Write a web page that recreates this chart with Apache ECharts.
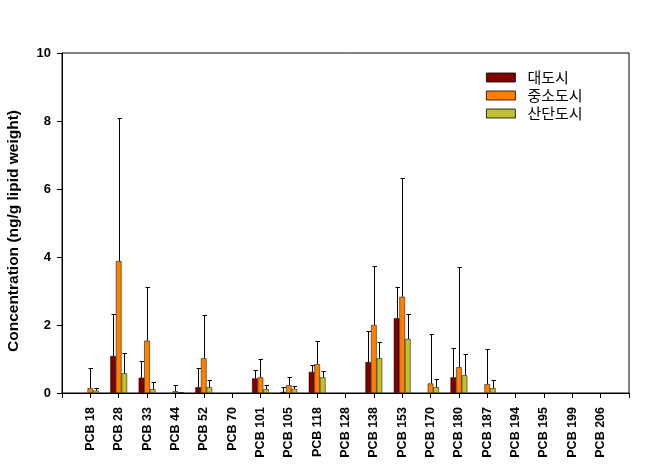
<!DOCTYPE html>
<html>
<head>
<meta charset="utf-8">
<script src="https://cdn.jsdelivr.net/npm/echarts@6/dist/echarts.min.js"></script>
<style>
html,body{margin:0;padding:0;background:#fff;}
#chart{width:658px;height:475px;}
</style>
</head>
<body>
<div id="chart"></div>
<script>
const categories = ['PCB 18','PCB 28','PCB 33','PCB 44','PCB 52','PCB 70','PCB 101','PCB 105','PCB 118','PCB 128','PCB 138','PCB 153','PCB 170','PCB 180','PCB 187','PCB 194','PCB 195','PCB 199','PCB 206'];
const seriesNames = ['대도시','중소도시','산단도시'];
const yTicks = [0, 2, 4, 6, 8, 10];

const largeCity  = [0, 1.09, 0.45, 0, 0.17, 0, 0.43, 0.03, 0.62, 0, 0.91, 2.20, 0, 0.46, 0, 0, 0, 0, 0];
const mediumCity = [0.14, 3.88, 1.54, 0.05, 1.02, 0, 0.46, 0.23, 0.85, 0, 2.00, 2.83, 0.28, 0.76, 0.26, 0, 0, 0, 0];
const industCity = [0.07, 0.58, 0.11, 0.02, 0.17, 0, 0.11, 0.12, 0.46, 0, 1.02, 1.59, 0.17, 0.52, 0.14, 0, 0, 0, 0];

// upper end of error bars (null = none)
const largeErrTop  = [null, 2.31, 0.94, null, 0.75, null, 0.68, 0.17, 0.81, null, 1.81, 3.11, null, 1.31, null, null, null, null, null];
const mediumErrTop = [0.75, 8.08, 3.11, 0.24, 2.29, null, 0.99, 0.46, 1.52, null, 3.75, 6.31, 1.74, 3.70, 1.29, null, null, null, null];
const industErrTop = [0.14, 1.17, 0.33, null, 0.37, null, 0.23, 0.20, 0.65, null, 1.51, 2.31, 0.42, 1.14, 0.37, null, null, null, null];

const colors = ['#800000', '#FF8000', '#C0C030'];
const BAR_W = 5.6;

const axisCats = [''].concat(categories, ['']);
function padBar(arr){ return ['-'].concat(arr.map(v => v === 0 ? '-' : v), ['-']); }
function errData(vals, tops){
  const out = [];
  vals.forEach((v, i) => { if (tops[i] != null) out.push([i + 1, v, tops[i]]); });
  return out;
}
function errSeries(vals, tops, k){
  return {
    type: 'custom',
    name: 'err' + k,
    data: errData(vals, tops),
    encode: { x: 0, y: [1, 2] },
    z: 5,
    silent: true,
    renderItem: function(params, api){
      const p0 = api.coord([api.value(0), api.value(1)]);
      const p1 = api.coord([api.value(0), api.value(2)]);
      const cx = Math.round(p0[0] + (k - 1) * BAR_W) + 0.5;
      const ty = Math.round(p1[1]) + 0.5;
      return {
        type: 'group',
        children: [
          { type: 'line', shape: { x1: cx, y1: p0[1], x2: cx, y2: ty }, style: { stroke: '#000', lineWidth: 1 } },
          { type: 'line', shape: { x1: cx - 2, y1: ty, x2: cx + 2.5, y2: ty }, style: { stroke: '#000', lineWidth: 1 } }
        ]
      };
    }
  };
}

const valueSets = [largeCity, mediumCity, industCity];
const errSets = [largeErrTop, mediumErrTop, industErrTop];

const barSeries = valueSets.map((vals, k) => ({
  type: 'bar',
  name: seriesNames[k],
  data: padBar(vals),
  barWidth: BAR_W,
  barGap: '0%',
  itemStyle: { color: colors[k], borderColor: '#000', borderWidth: 0.5 }
}));

const chart = echarts.init(document.getElementById('chart'), null, { renderer: 'canvas' });
chart.setOption({
  animation: false,
  backgroundColor: '#fff',
  grid: { left: 62, right: 29, top: 53, bottom: 82, containLabel: false, outerBoundsMode: 'none', show: true, borderColor: '#000', borderWidth: 1, backgroundColor: 'transparent' },
  legend: {
    data: seriesNames,
    orient: 'vertical',
    left: 481,
    top: 65,
    itemWidth: 29,
    itemHeight: 9,
    itemGap: 3,
    icon: 'rect',
    itemStyle: { borderColor: '#000', borderWidth: 0.8 },
    textStyle: { fontFamily: 'Noto Sans CJK KR', fontSize: 15, lineHeight: 15, color: '#000', padding: [0, 0, 0, 7] }
  },
  xAxis: {
    type: 'category',
    data: axisCats,
    boundaryGap: false,
    axisLine: { lineStyle: { color: '#000', width: 1 } },
    axisTick: { show: true, interval: 0, length: 5, lineStyle: { color: '#000' } },
    axisLabel: { interval: 0, rotate: 90, margin: 14, color: '#000', fontFamily: 'Liberation Sans', fontWeight: 'bold', fontSize: 12.5 },
    splitLine: { show: false }
  },
  yAxis: {
    type: 'value',
    min: yTicks[0],
    max: yTicks[yTicks.length - 1],
    interval: yTicks[1] - yTicks[0],
    name: 'Concentration (ng/g lipid weight)',
    nameLocation: 'middle',
    nameGap: 40,
    nameTextStyle: { fontFamily: 'Liberation Sans', fontWeight: 'bold', fontSize: 15.5, color: '#000', padding: [0, 16, 0, 0] },
    axisLine: { show: true, lineStyle: { color: '#000', width: 1 } },
    axisTick: { show: true, length: 5, lineStyle: { color: '#000' } },
    axisLabel: { margin: 11, color: '#000', fontFamily: 'Liberation Sans', fontWeight: 'bold', fontSize: 13 },
    splitLine: { show: false }
  },
  series: barSeries.concat(valueSets.map((v, k) => errSeries(v, errSets[k], k)))
});
</script>
</body>
</html>
